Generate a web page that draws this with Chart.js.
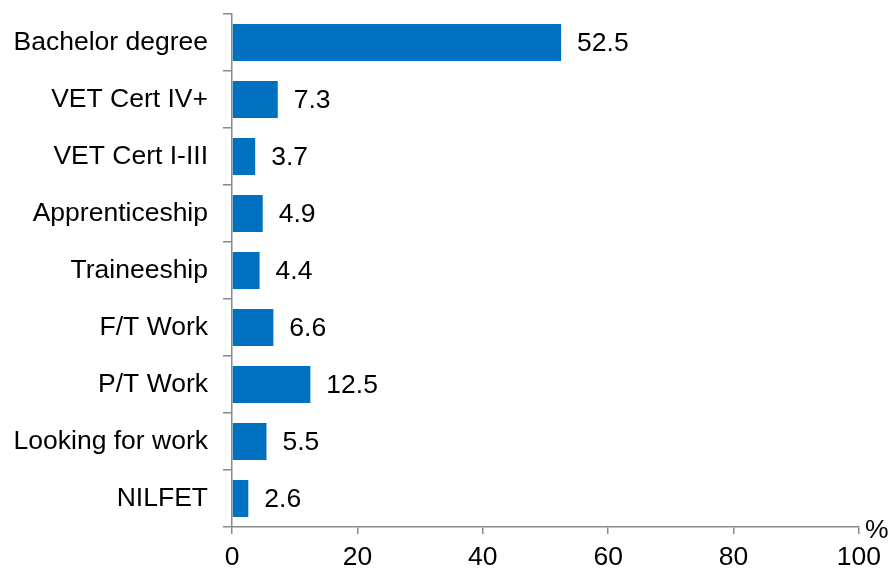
<!DOCTYPE html>
<html>
<head>
<meta charset="utf-8">
<script src="https://cdn.jsdelivr.net/npm/chart.js@4"></script>
<style>
  html, body { margin: 0; padding: 0; background: #fff; }
  #wrap { width: 889px; height: 569px; }
</style>
</head>
<body>
<div id="wrap"><canvas id="grafico"></canvas></div>
<script>
// Categorias e valores (%)
var categorias = [
  "Bachelor degree",
  "VET Cert IV+",
  "VET Cert I-III",
  "Apprenticeship",
  "Traineeship",
  "F/T Work",
  "P/T Work",
  "Looking for work",
  "NILFET"
];
var valores = [52.5, 7.3, 3.7, 4.9, 4.4, 6.6, 12.5, 5.5, 2.6];
var ticksX = [0, 20, 40, 60, 80, 100];
var unidade = "%";

var fonte = "Liberation Sans, Arial, sans-serif";
var tamanho = 26.5;
var corEixo = "#898989";

// Plugin para escrever os valores ao lado das barras e o "%" no fim do eixo
var rotulosPlugin = {
  id: "rotulos",
  afterDatasetsDraw: function (chart) {
    var ctx = chart.ctx;
    var meta = chart.getDatasetMeta(0);
    ctx.save();
    ctx.font = tamanho + "px " + fonte;
    ctx.fillStyle = "#000";
    ctx.textBaseline = "middle";
    ctx.textAlign = "left";
    meta.data.forEach(function (barra, i) {
      ctx.fillText(valores[i].toFixed(1), barra.x + 16, barra.y + 1);
    });
    var xs = chart.scales.x;
    ctx.fillText(unidade, xs.right + 6, xs.top + 4);
    ctx.restore();
  }
};

var grafico = new Chart(document.getElementById("grafico").getContext("2d"), {
  type: "bar",
  data: {
    labels: categorias,
    datasets: [
      {
        data: valores,
        backgroundColor: "#0070C0",
        borderWidth: 0,
        categoryPercentage: 1,
        barPercentage: 0.65
      }
    ]
  },
  options: {
    indexAxis: "y",
    responsive: true,
    maintainAspectRatio: false,
    animation: false,
    layout: { padding: { top: 14, right: 29, left: 0, bottom: 0 } },
    plugins: {
      legend: { display: false },
      tooltip: { enabled: false }
    },
    scales: {
      x: {
        min: 0,
        max: 100,
        afterBuildTicks: function (scale) {
          scale.ticks = ticksX.map(function (v) { return { value: v }; });
        },
        afterFit: function (scale) { scale.height = 42; },
        border: { color: corEixo, width: 1.5 },
        grid: {
          drawOnChartArea: false,
          drawTicks: true,
          tickLength: 7,
          color: corEixo,
          lineWidth: 1.5
        },
        ticks: {
          color: "#000",
          padding: 8,
          font: { family: fonte, size: tamanho }
        }
      },
      y: {
        afterFit: function (scale) {
          scale.width = 232;
          scale.paddingTop = 0;
          scale.paddingBottom = 0;
        },
        border: { color: corEixo, width: 1.5 },
        grid: {
          offset: true,
          drawOnChartArea: false,
          drawTicks: true,
          tickLength: 9,
          color: corEixo,
          lineWidth: 1.5
        },
        ticks: {
          color: "#000",
          padding: 15,
          font: { family: fonte, size: tamanho }
        }
      }
    }
  },
  plugins: [rotulosPlugin]
});
</script>
</body>
</html>
